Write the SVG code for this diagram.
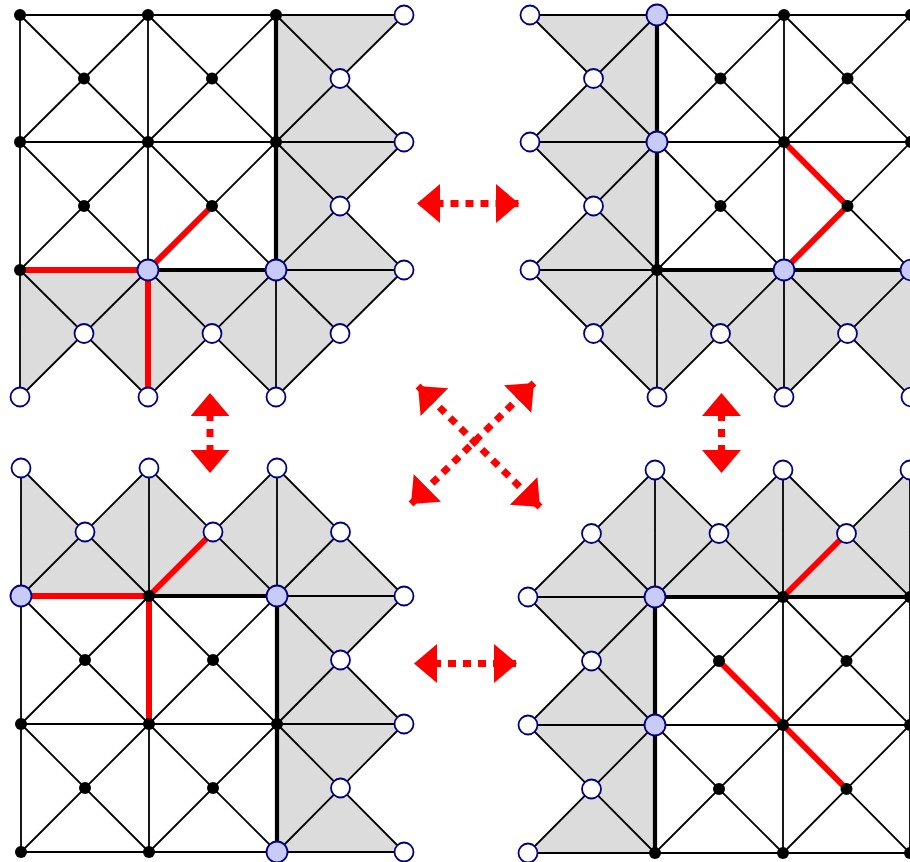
<svg xmlns="http://www.w3.org/2000/svg" width="910" height="862" viewBox="0 0 910 862">
<style>
.sh{fill:#dcdcdc;stroke:none}
.th{fill:none;stroke:#000;stroke-width:1.8;stroke-linecap:round}
.tk{fill:none;stroke:#000;stroke-width:4.2;stroke-linecap:butt}
.rd{fill:none;stroke:#ff0000;stroke-width:6;stroke-linecap:butt;stroke-linejoin:round}
.w{fill:#fff;stroke:#000080;stroke-width:1.8}
.l{fill:#c8cbf7;stroke:#000080;stroke-width:1.8}
.b{fill:#000}
.ar{fill:none;stroke:#ff0000;stroke-width:7;stroke-dasharray:8 7;marker-start:url(#ah);marker-end:url(#ah)}
</style>
<defs>
<marker id="ah" viewBox="0 0 23 39" refX="23" refY="19.5" markerWidth="23" markerHeight="39" markerUnits="userSpaceOnUse" orient="auto-start-reverse"><path d="M0,0L23,19.5L0,39Z" fill="#ff0000"/></marker>
</defs>
<rect width="910" height="862" fill="#fff"/>

<g id="panel-tl">
<polygon class="sh" points="276,15 404,15 340,78.5 404,142 340,206 404,270 340,333.5 276,397 212,333.5 148,397 84,333.5 20,397 20,270 276,270"/>
<path class="th" d="M20,15H404M20,142H404M20,270H404M20,15V397M148,15V397M276,15V397
M20,15L148,142M148,15L276,142M276,15L404,142M20,142L148,270M148,142L276,270M276,142L404,270M20,270L148,397M148,270L276,397M276,270L340,333.5
M148,15L20,142M276,15L148,142M404,15L276,142M148,142L20,270M276,142L148,270M404,142L276,270M148,270L20,397M276,270L148,397M404,270L276,397"/>
<path class="tk" d="M276,15V270M148,270H276"/>
<path class="rd" d="M20,270H148M148,270V397M148,270L212,206"/>
<g class="b"><circle cx="20" cy="15" r="6"/><circle cx="148" cy="15" r="6"/><circle cx="276" cy="15" r="6"/><circle cx="20" cy="142" r="6"/><circle cx="148" cy="142" r="6"/><circle cx="276" cy="142" r="6"/><circle cx="20" cy="270" r="6"/><circle cx="84" cy="78.5" r="6"/><circle cx="212" cy="78.5" r="6"/><circle cx="84" cy="206" r="6"/><circle cx="212" cy="206" r="6"/></g>
<g class="l"><circle cx="148" cy="270" r="10.5"/><circle cx="276" cy="270" r="10.5"/></g>
<g class="w"><circle cx="404" cy="15" r="9.5"/><circle cx="404" cy="142" r="9.5"/><circle cx="404" cy="270" r="9.5"/><circle cx="340" cy="78.5" r="9.5"/><circle cx="340" cy="206" r="9.5"/><circle cx="340" cy="333.5" r="9.5"/><circle cx="84" cy="333.5" r="9.5"/><circle cx="212" cy="333.5" r="9.5"/><circle cx="20" cy="397" r="9.5"/><circle cx="148" cy="397" r="9.5"/><circle cx="276" cy="397" r="9.5"/></g>
</g>

<g id="panel-tr">
<polygon class="sh" points="657,15 530,15 593.5,78.5 530,142 593.5,206 530,270 593.5,333.5 657,397 720.5,333.5 784,397 847.5,333.5 911,397 911,270 657,270"/>
<path class="th" d="M530,15H911M530,142H911M530,270H911M657,15V397M784,15V397M911,15V397
M530,15L657,142M657,15L784,142M784,15L911,142M530,142L657,270M657,142L784,270M784,142L911,270M530,270L657,397M657,270L784,397M784,270L911,397
M657,15L530,142M784,15L657,142M911,15L784,142M657,142L530,270M784,142L657,270M911,142L784,270M657,270L593.5,333.5M784,270L657,397M911,270L784,397"/>
<path class="tk" d="M657,15V270M657,270H911"/>
<path class="rd" d="M784,142L847.5,206L784,270"/>
<g class="b"><circle cx="784" cy="15" r="6"/><circle cx="911" cy="15" r="6"/><circle cx="784" cy="142" r="6"/><circle cx="911" cy="142" r="6"/><circle cx="657" cy="270" r="6"/><circle cx="720.5" cy="78.5" r="6"/><circle cx="847.5" cy="78.5" r="6"/><circle cx="720.5" cy="206" r="6"/><circle cx="847.5" cy="206" r="6"/></g>
<g class="l"><circle cx="657" cy="15" r="10.5"/><circle cx="657" cy="142" r="10.5"/><circle cx="784" cy="270" r="10.5"/><circle cx="911" cy="270" r="10.5"/></g>
<g class="w"><circle cx="530" cy="15" r="9.5"/><circle cx="530" cy="142" r="9.5"/><circle cx="530" cy="270" r="9.5"/><circle cx="593.5" cy="78.5" r="9.5"/><circle cx="593.5" cy="206" r="9.5"/><circle cx="593.5" cy="333.5" r="9.5"/><circle cx="720.5" cy="333.5" r="9.5"/><circle cx="847.5" cy="333.5" r="9.5"/><circle cx="657" cy="397" r="9.5"/><circle cx="784" cy="397" r="9.5"/><circle cx="911" cy="397" r="9.5"/></g>
</g>

<g id="panel-bl">
<polygon class="sh" points="21,596 21,468 85,532 149,468 213,532 277,468 340.5,532 404,596 340.5,660 404,724 340.5,788 404,852 277,852 277,596"/>
<path class="th" d="M21,596H404M21,724H404M21,852H404M21,468V852M149,468V852M277,468V852
M21,468L149,596M149,468L277,596M277,468L404,596M21,596L149,724M149,596L277,724M277,596L404,724M21,724L149,852M149,724L277,852M277,724L404,852
M149,468L21,596M277,468L149,596M340.5,532L277,596M149,596L21,724M277,596L149,724M404,596L277,724M149,724L21,852M277,724L149,852M404,724L277,852"/>
<path class="tk" d="M149,596H277M277,596V852"/>
<path class="rd" d="M21,596H149M149,596V724M149,596L213,532"/>
<g class="b"><circle cx="149" cy="596" r="6"/><circle cx="21" cy="724" r="6"/><circle cx="149" cy="724" r="6"/><circle cx="277" cy="724" r="6"/><circle cx="21" cy="852" r="6"/><circle cx="149" cy="852" r="6"/><circle cx="85" cy="660" r="6"/><circle cx="213" cy="660" r="6"/><circle cx="85" cy="788" r="6"/><circle cx="213" cy="788" r="6"/></g>
<g class="l"><circle cx="21" cy="596" r="10.5"/><circle cx="277" cy="596" r="10.5"/><circle cx="277" cy="852" r="10.5"/></g>
<g class="w"><circle cx="21" cy="468" r="9.5"/><circle cx="149" cy="468" r="9.5"/><circle cx="277" cy="468" r="9.5"/><circle cx="85" cy="532" r="9.5"/><circle cx="213" cy="532" r="9.5"/><circle cx="340.5" cy="532" r="9.5"/><circle cx="404" cy="596" r="9.5"/><circle cx="404" cy="724" r="9.5"/><circle cx="404" cy="852" r="9.5"/><circle cx="340.5" cy="660" r="9.5"/><circle cx="340.5" cy="788" r="9.5"/></g>
</g>

<g id="panel-br">
<polygon class="sh" points="910,597 910,470 846.5,533.5 783,470 719,533.5 655,470 591.5,533.5 528,597 591.5,661 528,725 591.5,789 528,853 655,853 655,597"/>
<path class="th" d="M528,597H910M528,725H910M528,853H910M655,470V853M783,470V853M910,470V853
M591.5,533.5L655,597M655,470L783,597M783,470L910,597M528,597L655,725M655,597L783,725M783,597L910,725M528,725L655,853M655,725L783,853M783,725L910,853
M655,470L528,597M783,470L655,597M910,470L783,597M655,597L528,725M783,597L655,725M910,597L783,725M655,725L528,853M783,725L655,853M910,725L783,853"/>
<path class="tk" d="M655,597H910M655,597V853"/>
<path class="rd" d="M783,597L846.5,533.5M719,661L783,725L846.5,789"/>
<g class="b"><circle cx="783" cy="597" r="6"/><circle cx="910" cy="597" r="6"/><circle cx="783" cy="725" r="6"/><circle cx="910" cy="725" r="6"/><circle cx="655" cy="853" r="6"/><circle cx="783" cy="853" r="6"/><circle cx="910" cy="853" r="6"/><circle cx="719" cy="661" r="6"/><circle cx="846.5" cy="661" r="6"/><circle cx="719" cy="789" r="6"/><circle cx="846.5" cy="789" r="6"/></g>
<g class="l"><circle cx="655" cy="597" r="10.5"/><circle cx="655" cy="725" r="10.5"/></g>
<g class="w"><circle cx="655" cy="470" r="9.5"/><circle cx="783" cy="470" r="9.5"/><circle cx="910" cy="470" r="9.5"/><circle cx="591.5" cy="533.5" r="9.5"/><circle cx="719" cy="533.5" r="9.5"/><circle cx="846.5" cy="533.5" r="9.5"/><circle cx="528" cy="597" r="9.5"/><circle cx="528" cy="725" r="9.5"/><circle cx="528" cy="853" r="9.5"/><circle cx="591.5" cy="661" r="9.5"/><circle cx="591.5" cy="789" r="9.5"/></g>
</g>

<g id="connectors">
<line class="ar" x1="417" y1="203.5" x2="519" y2="203.5" stroke-dashoffset="11.5"/>
<line class="ar" x1="414" y1="663.5" x2="517" y2="663.5" stroke-dashoffset="11"/>
<line class="ar" x1="210" y1="393" x2="210" y2="473" stroke-dashoffset="12" style="stroke-dasharray:8 8"/>
<line class="ar" x1="721.5" y1="393" x2="721.5" y2="473" stroke-dashoffset="12" style="stroke-dasharray:8 8"/>
<line class="ar" x1="418" y1="386" x2="540" y2="507"/>
<line class="ar" x1="534" y1="383" x2="411" y2="504"/>
</g>
</svg>
